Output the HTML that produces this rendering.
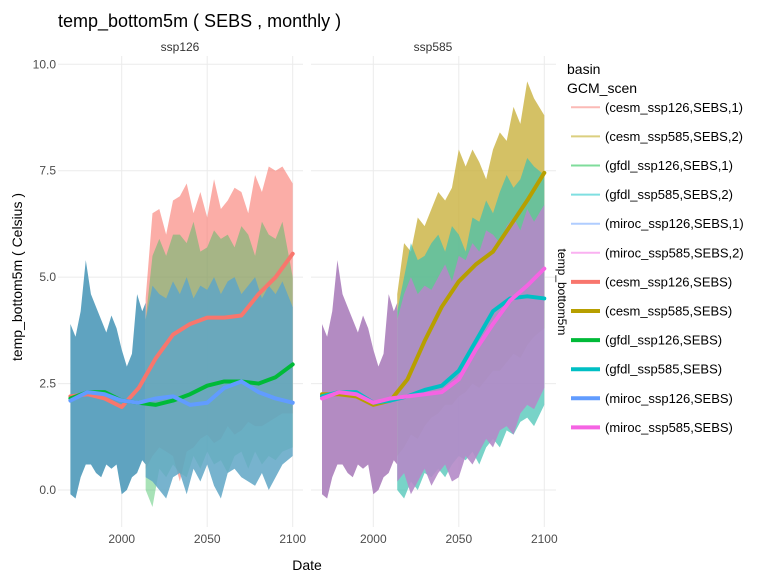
<!DOCTYPE html>
<html><head><meta charset="utf-8">
<style>
body{margin:0;background:#fff;}
svg{display:block;font-family:"Liberation Sans","DejaVu Sans",sans-serif;}
</style></head>
<body>
<svg id="chart" width="768" height="576" viewBox="0 0 768 576">
<text x="58" y="27" font-size="18" fill="#000">temp_bottom5m ( SEBS , monthly )</text>
<text x="180" y="51" font-size="12" fill="#333" text-anchor="middle">ssp126</text>
<text x="433" y="51" font-size="12" fill="#333" text-anchor="middle">ssp585</text>
<text x="307" y="570" font-size="14" fill="#000" text-anchor="middle">Date</text>
<text transform="translate(22,277) rotate(-90)" font-size="14" fill="#000" text-anchor="middle">temp_bottom5m ( Celsius )</text>
<g id="grid"></g>
<g id="marks"></g>
<g id="legend"></g>
</svg>
<script>
// ---- data ----
const histYears = [1970,1973,1976,1979,1982,1985,1988,1991,1994,1997,2000,2003,2006,2009,2012,2014];
const histHi = [3.9,3.6,4.2,5.4,4.6,4.3,4.0,3.7,4.1,3.8,3.3,2.9,3.2,4.6,4.2,4.4];
const histLo = [-0.1,-0.2,0.3,0.6,0.6,0.4,0.3,0.6,0.5,0.6,-0.1,0.0,0.3,0.4,0.7,0.6];
const futYears = [2014,2018,2022,2026,2030,2034,2038,2042,2046,2050,2054,2058,2062,2066,2070,2074,2078,2082,2086,2090,2094,2100];
const cesm126Hi = [4.5,6.5,6.6,6.0,6.8,6.9,7.2,6.5,7.0,6.4,7.3,6.6,6.8,7.1,7.0,6.5,7.4,7.0,7.6,7.5,7.6,7.2];
const cesm126Lo = [0.5,0.8,1.0,0.9,0.8,0.2,0.9,1.0,1.2,1.3,1.1,1.2,1.5,1.3,1.4,1.6,1.5,1.5,1.6,1.7,1.8,1.8];
const gfdl126Hi = [4.0,5.5,5.9,5.5,6.0,6.0,5.8,6.3,5.6,5.7,6.1,5.9,6.0,5.7,6.2,6.0,5.5,6.3,6.0,5.9,6.3,5.0];
const gfdl126Lo = [0.0,-0.4,0.5,0.3,0.6,0.4,0.3,0.8,0.5,0.9,0.6,0.7,0.4,0.8,0.9,0.5,0.9,0.6,0.8,0.7,0.9,1.0];
const miroc126Hi = [4.0,4.8,4.6,4.5,4.9,4.6,5.0,4.5,4.8,4.7,5.0,4.6,4.9,5.0,4.6,4.8,5.0,4.5,4.8,4.6,4.9,4.3];
const miroc126Lo = [0.3,0.2,0.0,-0.2,0.3,0.4,-0.1,0.5,0.2,0.6,0.1,-0.2,0.4,0.5,0.3,0.2,0.1,0.4,0.0,0.3,0.6,0.8];
const cesm585Hi = [4.6,5.8,5.6,6.4,6.2,6.6,7.0,6.8,7.1,8.0,7.6,8.0,7.7,7.3,8.0,8.4,8.2,9.0,8.6,9.6,9.2,8.8];
const cesm585Lo = [0.8,1.0,1.3,1.2,1.5,1.7,1.8,2.0,2.0,2.2,2.3,2.5,2.4,2.6,2.8,2.8,3.0,3.2,3.1,3.4,3.6,3.8];
const gfdl585Hi = [4.2,5.0,5.8,5.4,5.5,5.8,6.0,5.6,6.2,6.0,5.6,6.4,6.3,6.8,6.5,7.0,7.4,7.1,7.3,7.8,7.6,7.4];
const gfdl585Lo = [0.0,-0.2,0.2,0.0,0.4,0.3,0.5,0.3,0.6,0.8,0.7,0.9,0.6,1.0,1.2,1.0,1.4,1.3,1.6,1.7,1.5,2.0];
const miroc585Hi = [4.0,4.6,5.0,4.6,4.8,4.7,5.0,5.3,4.9,5.5,5.4,5.8,5.6,6.1,6.0,5.8,6.2,6.4,6.1,6.6,6.3,6.7];
const miroc585Lo = [0.2,0.4,-0.1,0.2,0.5,0.1,0.4,0.6,0.2,0.3,0.8,0.6,0.9,1.2,1.0,1.4,1.5,1.3,1.8,2.0,1.9,2.4];
const smoothYears = [1970,1980,1990,2000,2010,2020,2030,2040,2050,2060,2070,2080,2090,2100];
const cesm126Smooth = [2.2,2.25,2.15,1.95,2.4,3.1,3.65,3.9,4.05,4.05,4.1,4.6,5.0,5.55];
const gfdl126Smooth = [2.15,2.3,2.3,2.1,2.05,2.0,2.1,2.25,2.45,2.55,2.55,2.5,2.65,2.95];
const miroc126Smooth = [2.1,2.3,2.25,2.1,2.05,2.15,2.2,2.0,2.05,2.4,2.55,2.3,2.15,2.05];
const cesm585Smooth = [2.25,2.25,2.2,2.0,2.1,2.6,3.5,4.3,4.9,5.3,5.6,6.2,6.8,7.45];
const gfdl585Smooth = [2.2,2.3,2.3,2.05,2.1,2.2,2.35,2.45,2.8,3.5,4.2,4.5,4.55,4.5];
const miroc585Smooth = [2.15,2.3,2.25,2.05,2.15,2.2,2.25,2.3,2.6,3.3,3.9,4.45,4.8,5.2];
const yTicks = [0,2.5,5,7.5,10];
const yTickLabels = ["0.0","2.5","5.0","7.5","10.0"];
const xTicks = [2000,2050,2100];
const xTickLabels = ["2000","2050","2100"];
const legendLabels = ["(cesm_ssp126,SEBS,1)","(cesm_ssp585,SEBS,2)","(gfdl_ssp126,SEBS,1)","(gfdl_ssp585,SEBS,2)","(miroc_ssp126,SEBS,1)","(miroc_ssp585,SEBS,2)","(cesm_ssp126,SEBS)","(cesm_ssp585,SEBS)","(gfdl_ssp126,SEBS)","(gfdl_ssp585,SEBS)","(miroc_ssp126,SEBS)","(miroc_ssp585,SEBS)"];

// ---- layout ----
const NS="http://www.w3.org/2000/svg";
const panels=[{x0:58,x1:303,org:121.7},{x0:311,x1:556,org:373.3}];
const pxPerYear=1.71;
function xs(p,yr){return panels[p].org+(yr-2000)*pxPerYear;}
function ys(v){return 490-v*42.57;}
function mk(tag,attrs,parent){const e=document.createElementNS(NS,tag);for(const k in attrs)e.setAttribute(k,attrs[k]);parent.appendChild(e);return e;}
const grid=document.getElementById('grid'),marks=document.getElementById('marks'),leg=document.getElementById('legend');

panels.forEach((p,pi)=>{
  yTicks.forEach((t,i)=>{
    const l=mk('line',{x1:p.x0,x2:p.x1,y1:ys(t),y2:ys(t),stroke:'#ebebeb','stroke-width':1},grid);
    
    
    if(pi===0){const tx=mk('text',{x:56,y:ys(t)+4,'font-size':12,fill:'#4d4d4d','text-anchor':'end'},grid);tx.textContent=yTickLabels[i];
      
      }
  });
  xTicks.forEach((t,i)=>{
    const l=mk('line',{x1:xs(pi,t),x2:xs(pi,t),y1:56,y2:527,stroke:'#ebebeb','stroke-width':1},grid);
    
    
    const tx=mk('text',{x:xs(pi,t),y:543,'font-size':12,fill:'#4d4d4d','text-anchor':'middle'},grid);tx.textContent=xTickLabels[i];
    
    
  });
});

function band(p,years,hi,lo,color,op,name){
  let pts=years.map((y,i)=>xs(p,y)+','+ys(hi[i]));
  for(let i=years.length-1;i>=0;i--)pts.push(xs(p,years[i])+','+ys(lo[i]));
  const e=mk('polygon',{points:pts.join(' '),fill:color,'fill-opacity':op},marks);
  
  
}
function line(p,years,vals,color,name){
  const e=mk('polyline',{points:years.map((y,i)=>xs(p,y)+','+ys(vals[i])).join(' '),fill:'none',stroke:color,'stroke-width':4,'stroke-linejoin':'round','stroke-linecap':'round'},marks);
  
  
}
// panel 1
band(0,futYears,cesm126Hi,cesm126Lo,'#F8766D',0.6,'cesm-ssp126-raw');
band(0,futYears,gfdl126Hi,gfdl126Lo,'#3fbf5f',0.45,'gfdl-ssp126-raw');
band(0,futYears,miroc126Hi,miroc126Lo,'#5fa6c6',0.85,'miroc-ssp126-raw');
band(0,histYears,histHi,histLo,'#5fa3c0',1,'historical-raw-ssp126');
// panel 2
band(1,futYears,cesm585Hi,cesm585Lo,'#c9b23f',0.8,'cesm-ssp585-raw');
band(1,futYears,gfdl585Hi,gfdl585Lo,'#3fc1b0',0.7,'gfdl-ssp585-raw');
band(1,futYears,miroc585Hi,miroc585Lo,'#b48ac8',0.9,'miroc-ssp585-raw');
band(1,histYears,histHi,histLo,'#b38bc2',1,'historical-raw-ssp585');
// smooth lines
line(0,smoothYears,cesm126Smooth,'#F8766D','cesm-ssp126-smooth');
line(0,smoothYears,gfdl126Smooth,'#00BA38','gfdl-ssp126-smooth');
line(0,smoothYears,miroc126Smooth,'#619CFF','miroc-ssp126-smooth');
line(1,smoothYears,cesm585Smooth,'#B79F00','cesm-ssp585-smooth');
line(1,smoothYears,gfdl585Smooth,'#00BFC4','gfdl-ssp585-smooth');
line(1,smoothYears,miroc585Smooth,'#F564E3','miroc-ssp585-smooth');

// legend
const lcol=['#F8766D','#B79F00','#00BA38','#00BFC4','#619CFF','#F564E3'];
let t1=mk('text',{x:567,y:74,'font-size':14,fill:'#000'},leg);t1.textContent='basin';


let t2=mk('text',{x:567,y:93,'font-size':14,fill:'#000'},leg);t2.textContent='GCM_scen';


legendLabels.forEach((lab,i)=>{
  const y=107.3+i*29.1;const thick=i>=6;
  const g=mk('g',{},leg);
  
  
  mk('line',{x1:571,x2:600,y1:y,y2:y,stroke:lcol[i%6],'stroke-width':thick?4:2,'stroke-opacity':thick?1:0.5},g);
  const tx=mk('text',{x:605,y:y+4.5,'font-size':13,fill:'#000'},g);tx.textContent=lab;
});
let rl=mk('text',{transform:'translate(558,292) rotate(90)','font-size':12,fill:'#000','text-anchor':'middle'},leg);rl.textContent='temp_bottom5m';


</script>
</body></html>
